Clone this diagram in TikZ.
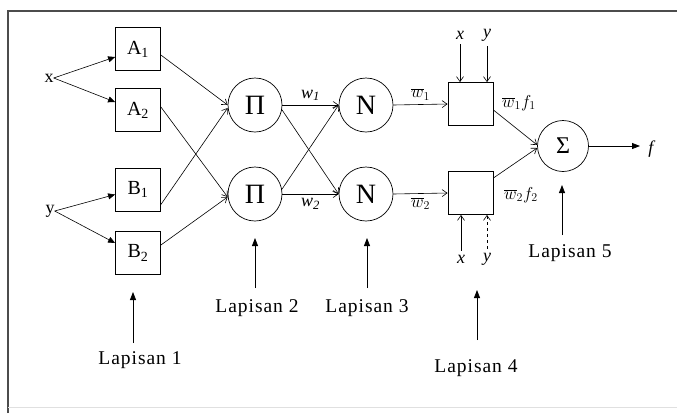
\documentclass[tikz,border=0pt]{standalone}
\usepackage{fontspec}
\setmainfont{Liberation Serif}
\usetikzlibrary{arrows.meta}
\begin{document}
\begin{tikzpicture}[x=1pt,y=-1pt,
  box/.style={draw, line width=0.8pt, minimum width=45pt, minimum height=43pt, inner sep=0pt, font=\fontsize{20}{20}\selectfont},
  neuron/.style={draw, circle, line width=0.7pt, minimum size=54pt, inner sep=0pt, font=\fontsize{28}{28}\selectfont},
  conn/.style={-{Straight Barb[length=5pt,width=7pt]}, line width=0.6pt},
  inarr/.style={-{Triangle[length=7pt,width=6pt]}, line width=0.6pt},
  layarr/.style={-{Triangle[length=8pt,width=6pt]}, line width=0.8pt},
  lay/.style={inner sep=0pt, font=\fontsize{19.5}{19.5}\selectfont\addfontfeature{LetterSpace=5}},
  lbl/.style={inner sep=0pt, font=\fontsize{18}{18}\selectfont}]
\useasboundingbox (0,0) rectangle (677,413);
% frame
\draw[line width=1.6pt, black!70] (8,413) -- (8,11) -- (677,11);
\draw[line width=0.5pt, black!12] (8,407) -- (677,407);
% inputs
\node[lbl] (x) at (49,78) {x};
\node[lbl] (y) at (50,211) {y};
% layer 1
\node[box] (A1) at (138,49) {A\textsubscript{1}};
\node[box] (A2) at (138,110) {A\textsubscript{2}};
\node[box] (B1) at (138,189.5) {B\textsubscript{1}};
\node[box] (B2) at (138,253) {B\textsubscript{2}};
% layer 2,3
\node[neuron] (P1) at (255,105) {Π};
\node[neuron] (P2) at (255,194) {Π};
\node[neuron] (N1) at (366,105) {N};
\node[neuron] (N2) at (366,194) {N};
% layer 4
\node[box] (C1) at (470.5,104) {};
\node[box] (C2) at (470.5,193) {};
% layer 5
\node[neuron, minimum size=51pt, font=\fontsize{24}{24}\selectfont] (S) at (563,146) {Σ};
\coordinate (fo) at (640,146);
\node[lbl] (f) at (652,149) {\textit{f}};
% input connections
\draw[inarr] (x.east) -- ([yshift=-8pt]A1.west);
\draw[inarr] (x.east) -- ([yshift=8pt]A2.west);
\draw[inarr] (y.east) -- ([yshift=-5pt]B1.west);
\draw[inarr] (y.east) -- ([yshift=10pt]B2.west);
% layer1 -> layer2
\draw[conn] ([yshift=-6pt]A1.east) -- (P1.west);
\draw[conn] ([yshift=3pt]A2.east) -- ([yshift=-3pt]P2.west);
\draw[conn] ([yshift=-15pt]B1.east) -- ([yshift=-3pt]P1.west);
\draw[conn] ([yshift=8pt]B2.east) -- ([yshift=-3pt]P2.west);
% layer2 -> layer3
\draw[conn] (P1.east) -- node[lbl, above=4pt] {\textit{w\textsubscript{1}}} (N1.west);
\draw[conn] (P2.east) -- node[lbl, below=4pt] {\textit{w\textsubscript{2}}} (N2.west);
\draw[conn] (P1.-10) -- (N2.west);
\draw[conn] (P2.10) -- (N1.west);
% layer3 -> layer4
\draw[conn] (N1.east) -- node[lbl, above=4pt] {$\overline{w}_1$} (C1.west);
\draw[conn] (N2.east) -- node[lbl, below=4pt] {$\overline{w}_2$} (C2.west);
% x,y into layer 4
\node[lbl] (x1) at (460,35) {\textit{x}};
\node[lbl] (y1) at (487,35) {\textit{y}};
\node[lbl] (x2) at (461,259) {\textit{x}};
\node[lbl] (y2) at (487,259) {\textit{y}};
\draw[conn] (x1.south) ++(0,5) -- (C1.north -| x1);
\draw[conn] (y1.south) ++(0,5) -- (C1.north -| y1);
\draw[conn] (x2.north) ++(0,-4) -- (C2.south -| x2);
\draw[conn, dashed] (y2.north) ++(0,-4) -- (C2.south -| y2);
% layer4 -> layer5
\draw[conn] ([yshift=-6pt]C1.east) -- ([yshift=1pt]S.west);
\draw[conn] ([yshift=15pt]C2.east) -- ([yshift=-2pt]S.west);
\node[lbl] (wf1) at (519,103) {$\overline{w}_1 f_1$};
\node[lbl] (wf2) at (521,195) {$\overline{w}_2 f_2$};
\draw[layarr] (S.east) -- (fo);
% layer labels
\node[lay] (L1) at (140,360) {Lapisan 1};
\node[lay] (L2) at (257,308) {Lapisan 2};
\node[lay] (L3) at (367,308) {Lapisan 3};
\node[lay] (L4) at (476,368) {Lapisan 4};
\node[lay] (L5) at (570,253) {Lapisan 5};
\draw[layarr] (133,343) -- (133,292);
\draw[layarr] (255,288) -- (255,238);
\draw[layarr] (367,288) -- (367,238);
\draw[layarr] (477,340) -- (477,290);
\draw[layarr] (562,235) -- (562,185);
\end{tikzpicture}
\end{document}
